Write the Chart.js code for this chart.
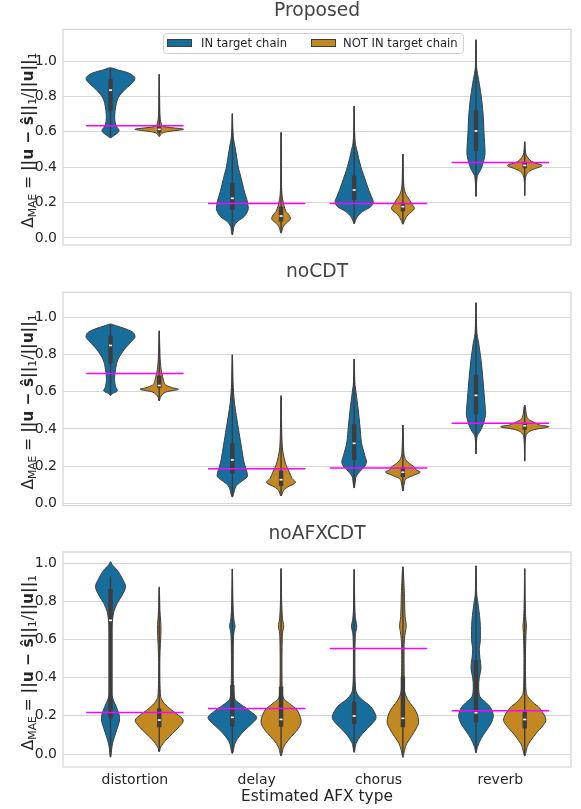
<!DOCTYPE html>
<html>
<head>
<meta charset="utf-8">
<script src="https://cdn.jsdelivr.net/npm/chart.js@4.4.1/dist/chart.umd.min.js"></script>
<style>
  html, body { margin: 0; padding: 0; background: #fff; }
  #wrap { position: relative; width: 581px; height: 809px; }
  .panel { position: absolute; left: 0; width: 581px; }
  canvas { display: block; }
</style>
</head>
<body>
<div id="wrap">
  <div class="panel" style="top:0"><canvas id="c0" width="581" height="260"></canvas></div>
  <div class="panel" style="top:260px"><canvas id="c1" width="581" height="260"></canvas></div>
  <div class="panel" style="top:520px"><canvas id="c2" width="581" height="289"></canvas></div>
</div>
<script>
const categories = ['distortion', 'delay', 'chorus', 'reverb'];
const hueLabels = ['IN target chain', 'NOT IN target chain'];
const panelTitles = ['Proposed', 'noCDT', 'noAFXCDT'];
const yTickValues = [0, 0.2, 0.4, 0.6, 0.8, 1.0];

// magenta reference level per category
const proposedRef = [0.635, 0.195, 0.195, 0.426];
const noCdtRef = [0.697, 0.186, 0.191, 0.431];
const noAfxcdtRef = [0.218, 0.239, 0.553, 0.227];

// violin outlines, bottom to top: [value, half width in category units]
const proposedIn = [
    [[0.567, 0], [0.58, 0.03], [0.595, 0.06], [0.61, 0.07], [0.63, 0.05], [0.66, 0.036], [0.70, 0.035], [0.74, 0.042], [0.78, 0.055], [0.81, 0.08], [0.84, 0.12], [0.865, 0.16], [0.885, 0.19], [0.90, 0.2], [0.915, 0.19], [0.935, 0.14], [0.95, 0.06], [0.962, 0]],
    [[0.017, 0], [0.064, 0.014], [0.092, 0.041], [0.12, 0.096], [0.158, 0.129], [0.19, 0.127], [0.215, 0.12], [0.26, 0.1], [0.31, 0.082], [0.36, 0.064], [0.40, 0.049], [0.46, 0.035], [0.516, 0.022], [0.56, 0.01], [0.62, 0.004], [0.704, 0]],
    [[0.079, 0], [0.10, 0.012], [0.12, 0.027], [0.149, 0.068], [0.177, 0.137], [0.205, 0.156], [0.234, 0.142], [0.27, 0.12], [0.309, 0.101], [0.36, 0.075], [0.403, 0.055], [0.45, 0.037], [0.497, 0.022], [0.535, 0.01], [0.60, 0.004], [0.746, 0]],
    [[0.235, 0], [0.30, 0.004], [0.347, 0.01], [0.365, 0.022], [0.403, 0.049], [0.46, 0.071], [0.497, 0.074], [0.591, 0.066], [0.685, 0.06], [0.78, 0.047], [0.874, 0.027], [0.948, 0.008], [1.0, 0.004], [1.122, 0]]
];
const proposedNot = [
    [[0.573, 0], [0.59, 0.02], [0.60, 0.06], [0.61, 0.17], [0.615, 0.2], [0.62, 0.15], [0.63, 0.04], [0.65, 0.015], [0.70, 0.006], [0.80, 0.003], [0.927, 0]],
    [[0.026, 0], [0.06, 0.015], [0.083, 0.041], [0.10, 0.07], [0.111, 0.077], [0.13, 0.065], [0.15, 0.041], [0.18, 0.025], [0.215, 0.014], [0.26, 0.006], [0.35, 0.003], [0.597, 0]],
    [[0.077, 0], [0.10, 0.015], [0.13, 0.041], [0.164, 0.093], [0.19, 0.075], [0.215, 0.055], [0.24, 0.03], [0.27, 0.014], [0.32, 0.006], [0.475, 0]],
    [[0.239, 0], [0.33, 0.004], [0.365, 0.022], [0.384, 0.055], [0.409, 0.142], [0.425, 0.08], [0.441, 0.041], [0.47, 0.012], [0.50, 0.005], [0.544, 0]]
];
const noCdtIn = [
    [[0.58, 0], [0.589, 0.014], [0.603, 0.055], [0.615, 0.05], [0.629, 0.041], [0.665, 0.033], [0.718, 0.041], [0.771, 0.06], [0.824, 0.11], [0.86, 0.16], [0.885, 0.195], [0.90, 0.2], [0.92, 0.18], [0.94, 0.11], [0.955, 0.04], [0.963, 0]],
    [[0.035, 0], [0.089, 0.027], [0.115, 0.068], [0.142, 0.12], [0.168, 0.12], [0.222, 0.096], [0.293, 0.077], [0.381, 0.055], [0.47, 0.033], [0.55, 0.016], [0.65, 0.006], [0.798, 0]],
    [[0.083, 0], [0.12, 0.01], [0.142, 0.014], [0.168, 0.041], [0.195, 0.082], [0.222, 0.101], [0.257, 0.088], [0.328, 0.06], [0.417, 0.047], [0.505, 0.033], [0.594, 0.016], [0.65, 0.006], [0.775, 0]],
    [[0.266, 0], [0.33, 0.004], [0.363, 0.01], [0.381, 0.027], [0.417, 0.055], [0.47, 0.077], [0.505, 0.077], [0.594, 0.066], [0.683, 0.055], [0.771, 0.041], [0.86, 0.022], [0.913, 0.008], [1.0, 0.003], [1.078, 0]]
];
const noCdtNot = [
    [[0.55, 0], [0.576, 0.014], [0.598, 0.055], [0.612, 0.156], [0.621, 0.11], [0.635, 0.055], [0.647, 0.041], [0.683, 0.027], [0.718, 0.016], [0.771, 0.008], [0.85, 0.004], [0.927, 0]],
    [[0.041, 0], [0.07, 0.02], [0.089, 0.055], [0.112, 0.118], [0.135, 0.09], [0.168, 0.068], [0.20, 0.045], [0.24, 0.027], [0.30, 0.011], [0.40, 0.005], [0.58, 0]],
    [[0.067, 0], [0.11, 0.012], [0.133, 0.027], [0.15, 0.082], [0.168, 0.142], [0.18, 0.11], [0.195, 0.096], [0.222, 0.041], [0.25, 0.014], [0.30, 0.006], [0.422, 0]],
    [[0.227, 0], [0.33, 0.004], [0.372, 0.016], [0.395, 0.068], [0.411, 0.197], [0.422, 0.12], [0.434, 0.082], [0.45, 0.035], [0.47, 0.016], [0.528, 0]]
];
const noAfxcdtIn = [
    [[-0.017, 0], [0.047, 0.014], [0.091, 0.033], [0.134, 0.055], [0.178, 0.074], [0.213, 0.068], [0.257, 0.041], [0.30, 0.014], [0.35, 0.006], [0.50, 0.005], [0.649, 0.008], [0.70, 0.016], [0.745, 0.027], [0.789, 0.055], [0.832, 0.096], [0.876, 0.123], [0.92, 0.096], [0.963, 0.055], [0.99, 0.015], [1.007, 0]],
    [[0.003, 0], [0.056, 0.022], [0.091, 0.055], [0.126, 0.104], [0.161, 0.164], [0.192, 0.2], [0.222, 0.151], [0.248, 0.096], [0.274, 0.041], [0.30, 0.016], [0.40, 0.008], [0.55, 0.008], [0.63, 0.012], [0.67, 0.022], [0.71, 0.012], [0.80, 0.005], [0.969, 0]],
    [[0.009, 0], [0.056, 0.016], [0.091, 0.049], [0.126, 0.096], [0.161, 0.151], [0.195, 0.18], [0.248, 0.137], [0.283, 0.068], [0.318, 0.022], [0.36, 0.01], [0.45, 0.006], [0.60, 0.008], [0.64, 0.014], [0.67, 0.022], [0.70, 0.014], [0.76, 0.006], [0.967, 0]],
    [[0.007, 0], [0.04, 0.014], [0.08, 0.041], [0.12, 0.082], [0.16, 0.123], [0.20, 0.142], [0.24, 0.123], [0.27, 0.082], [0.30, 0.033], [0.35, 0.022], [0.40, 0.027], [0.45, 0.041], [0.50, 0.033], [0.55, 0.027], [0.60, 0.036], [0.70, 0.033], [0.80, 0.014], [0.85, 0.005], [0.986, 0]]
];
const noAfxcdtNot = [
    [[0.012, 0], [0.038, 0.014], [0.073, 0.055], [0.108, 0.11], [0.143, 0.164], [0.178, 0.197], [0.213, 0.137], [0.248, 0.068], [0.283, 0.022], [0.33, 0.008], [0.50, 0.005], [0.65, 0.014], [0.75, 0.006], [0.876, 0]],
    [[-0.009, 0], [0.038, 0.022], [0.073, 0.06], [0.108, 0.11], [0.143, 0.151], [0.178, 0.164], [0.23, 0.131], [0.265, 0.068], [0.30, 0.016], [0.40, 0.008], [0.55, 0.008], [0.63, 0.012], [0.67, 0.022], [0.71, 0.012], [0.80, 0.005], [0.972, 0]],
    [[-0.017, 0], [0.021, 0.014], [0.056, 0.033], [0.091, 0.068], [0.134, 0.11], [0.169, 0.129], [0.213, 0.115], [0.248, 0.082], [0.283, 0.041], [0.33, 0.014], [0.40, 0.011], [0.55, 0.01], [0.62, 0.016], [0.67, 0.027], [0.72, 0.018], [0.80, 0.014], [0.85, 0.012], [0.981, 0]],
    [[-0.01, 0], [0.04, 0.022], [0.07, 0.049], [0.11, 0.096], [0.15, 0.151], [0.185, 0.173], [0.24, 0.123], [0.27, 0.068], [0.30, 0.027], [0.34, 0.01], [0.50, 0.006], [0.62, 0.01], [0.67, 0.014], [0.72, 0.008], [0.80, 0.004], [0.972, 0]]
];

// inner box per violin: [whisker low, q1, median, q3, whisker high]
const proposedInBox = [[0.57, 0.717, 0.836, 0.898, 0.96], [0.02, 0.158, 0.224, 0.31, 0.70], [0.08, 0.215, 0.271, 0.352, 0.746], [0.235, 0.493, 0.605, 0.723, 1.12]];
const proposedNotBox = [[0.58, 0.595, 0.614, 0.638, 0.925], [0.03, 0.092, 0.124, 0.177, 0.597], [0.08, 0.15, 0.177, 0.20, 0.475], [0.24, 0.394, 0.41, 0.426, 0.544]];
const noCdtInBox = [[0.58, 0.75, 0.848, 0.90, 0.96], [0.035, 0.16, 0.234, 0.323, 0.798], [0.083, 0.234, 0.323, 0.426, 0.775], [0.266, 0.479, 0.58, 0.691, 1.075]];
const noCdtNotBox = [[0.55, 0.62, 0.633, 0.686, 0.925], [0.041, 0.094, 0.128, 0.177, 0.575], [0.067, 0.142, 0.168, 0.195, 0.42], [0.23, 0.395, 0.417, 0.434, 0.528]];
const noAfxcdtInBox = [[-0.015, 0.187, 0.70, 0.864, 0.93], [0.003, 0.143, 0.192, 0.361, 0.97], [0.009, 0.157, 0.199, 0.274, 0.967], [0.007, 0.166, 0.216, 0.492, 0.985]];
const noAfxcdtNotBox = [[0.012, 0.14, 0.178, 0.239, 0.87], [-0.01, 0.143, 0.181, 0.353, 0.97], [-0.017, 0.14, 0.187, 0.405, 0.98], [-0.01, 0.134, 0.181, 0.222, 0.97]];

const hueColors = ['#176d9c', '#c38820'];
const edgeColor = '#3d3d3d';
const textColor = '#262626';
const titleColor = '#444444';
const gridColor = '#d6d6d6';
const fontFamily = "'DejaVu Sans', sans-serif";

Chart.defaults.font.family = fontFamily;
Chart.defaults.color = textColor;

const panels = [
    { title: panelTitles[0], ref: proposedRef, violins: [proposedIn, proposedNot], boxes: [proposedInBox, proposedNotBox],
      yMin: -0.04, yMax: 1.18, height: 260, titleMid: 10.8, areaTop: 29.3, areaBottom: 245 },
    { title: panelTitles[1], ref: noCdtRef, violins: [noCdtIn, noCdtNot], boxes: [noCdtInBox, noCdtNotBox],
      yMin: -0.011, yMax: 1.133, height: 260, titleMid: 11.8, areaTop: 32.3, areaBottom: 247 },
    { title: panelTitles[2], ref: noAfxcdtRef, violins: [noAfxcdtIn, noAfxcdtNot], boxes: [noAfxcdtInBox, noAfxcdtNotBox],
      yMin: -0.068, yMax: 1.058, height: 289, titleMid: 14.2, areaTop: 32, areaBottom: 247 }
];

// closed Catmull-Rom through the outline points
function smoothClosed(ctx, pts) {
    const n = pts.length;
    ctx.moveTo(pts[0][0], pts[0][1]);
    for (let i = 0; i < n; i++) {
        const p0 = pts[(i - 1 + n) % n], p1 = pts[i], p2 = pts[(i + 1) % n], p3 = pts[(i + 2) % n];
        ctx.bezierCurveTo(
            p1[0] + (p2[0] - p0[0]) / 6, p1[1] + (p2[1] - p0[1]) / 6,
            p2[0] - (p3[0] - p1[0]) / 6, p2[1] - (p3[1] - p1[1]) / 6,
            p2[0], p2[1]);
    }
    ctx.closePath();
}

function drawYLabel(ctx, cx, cy) {
    const big = 15.4, small = 10.8;
    const parts = [
        ['\u0394', big, 'normal', 0],
        ['MAE', small, 'normal', 3.6],
        [' = ', big, 'normal', 0],
        ['||u \u2212 \u015d||', big, 'bold', 0],
        ['1', small, 'normal', 3.6],
        ['/', big, 'normal', 0],
        ['||u||', big, 'bold', 0],
        ['1', small, 'normal', 3.6]
    ];
    ctx.save();
    let total = 0;
    parts.forEach(p => { ctx.font = `${p[2]} ${p[1]}px ${fontFamily}`; p.push(ctx.measureText(p[0]).width); total += p[4]; });
    ctx.translate(cx, cy);
    ctx.rotate(-Math.PI / 2);
    ctx.fillStyle = textColor;
    ctx.textBaseline = 'alphabetic';
    let x = -total / 2;
    parts.forEach(p => {
        ctx.font = `${p[2]} ${p[1]}px ${fontFamily}`;
        ctx.fillText(p[0], x, p[3]);
        x += p[4];
    });
    ctx.restore();
}

function drawLegend(ctx) {
    ctx.save();
    ctx.beginPath();
    ctx.roundRect(163.5, 33.5, 300, 20, 3);
    ctx.fillStyle = 'rgba(255,255,255,0.85)';
    ctx.fill();
    ctx.strokeStyle = '#d0d0d0';
    ctx.lineWidth = 1;
    ctx.stroke();
    const patchX = [167, 311], textX = [201, 343];
    ctx.font = `11.6px ${fontFamily}`;
    ctx.textBaseline = 'middle';
    hueLabels.forEach((label, h) => {
        ctx.fillStyle = hueColors[h];
        ctx.fillRect(patchX[h], 39, 25, 8);
        ctx.strokeStyle = edgeColor;
        ctx.strokeRect(patchX[h] + 0.5, 39.5, 24, 7);
        ctx.fillStyle = textColor;
        ctx.fillText(label, textX[h], 43.5);
    });
    ctx.restore();
}

function violinPlugin(p, withLegend) {
    return {
        id: 'violins',
        beforeDatasetsDraw(chart) {
            const { ctx, chartArea: a, scales: { x, y } } = chart;
            ctx.save();
            ctx.strokeStyle = gridColor;
            ctx.lineWidth = 1.25;
            ctx.strokeRect(a.left, a.top, a.right - a.left, a.bottom - a.top);

            p.violins.forEach((group, h) => {
                const off = h === 0 ? -0.2 : 0.2;
                group.forEach((outline, i) => {
                    const c = i + off;
                    const right = outline.map(([v, w]) => [x.getPixelForValue(c + w), y.getPixelForValue(v)]);
                    const left = outline.slice(1, -1).reverse().map(([v, w]) => [x.getPixelForValue(c - w), y.getPixelForValue(v)]);
                    ctx.beginPath();
                    smoothClosed(ctx, right.concat(left));
                    ctx.fillStyle = hueColors[h];
                    ctx.fill();
                    ctx.lineWidth = 1;
                    ctx.strokeStyle = edgeColor;
                    ctx.stroke();

                    const [lo, q1, med, q3, hi] = p.boxes[h][i];
                    const xc = x.getPixelForValue(c);
                    ctx.beginPath();
                    ctx.moveTo(xc, y.getPixelForValue(lo));
                    ctx.lineTo(xc, y.getPixelForValue(hi));
                    ctx.lineWidth = 1.4;
                    ctx.stroke();
                    ctx.fillStyle = edgeColor;
                    const top = y.getPixelForValue(q3), bot = y.getPixelForValue(q1);
                    ctx.fillRect(xc - 2.2, top, 4.4, bot - top);
                    ctx.fillStyle = '#ffffff';
                    ctx.fillRect(xc - 1.5, y.getPixelForValue(med) - 0.8, 3, 1.6);
                });
            });
            ctx.restore();
        },
        afterDraw(chart) {
            const a = chart.chartArea;
            drawYLabel(chart.ctx, 32.5, (a.top + a.bottom) / 2 + 3);
            if (withLegend) drawLegend(chart.ctx);
        }
    };
}

panels.forEach((p, idx) => {
    const last = idx === panels.length - 1;
    const datasets = p.ref.map((m, i) => ({
        data: [{ x: i - 0.4, y: m }, { x: i + 0.4, y: m }],
        showLine: true,
        borderColor: '#ff00ff',
        borderWidth: 1.5,
        pointRadius: 0
    }));
    new Chart(document.getElementById('c' + idx), {
        type: 'scatter',
        data: { datasets },
        options: {
            responsive: false,
            animation: false,
            events: [],
            layout: { padding: { left: 0, right: 10, top: 0, bottom: 0 } },
            plugins: {
                legend: { display: false },
                tooltip: { enabled: false },
                title: {
                    display: true,
                    text: p.title,
                    fullSize: false,
                    color: titleColor,
                    font: { size: 18.7, weight: 'normal', lineHeight: 1 },
                    padding: { top: p.titleMid - 9.35, bottom: p.areaTop - (p.titleMid - 9.35) - 18.7 }
                }
            },
            scales: {
                x: {
                    type: 'linear',
                    min: -0.59,
                    max: 3.58,
                    grid: { display: false, drawTicks: false, tickLength: 0 },
                    border: { display: false },
                    afterBuildTicks: s => { s.ticks = categories.map((c, i) => ({ value: i })); },
                    afterFit: s => { s.height = p.height - p.areaBottom; },
                    ticks: {
                        display: last,
                        padding: 5,
                        color: textColor,
                        font: { size: 14 },
                        maxRotation: 0,
                        callback: v => categories[v]
                    },
                    title: {
                        display: last,
                        text: 'Estimated AFX type',
                        color: textColor,
                        font: { size: 15.4 },
                        padding: { top: 0, bottom: 2.4 }
                    }
                },
                y: {
                    min: p.yMin,
                    max: p.yMax,
                    grid: { color: gridColor, lineWidth: 1, drawTicks: false },
                    border: { display: false },
                    afterBuildTicks: s => { s.ticks = yTickValues.map(v => ({ value: v })); },
                    afterFit: s => { s.width = 63; },
                    ticks: {
                        padding: 6,
                        color: textColor,
                        font: { size: 14 },
                        callback: v => v.toFixed(1)
                    }
                }
            }
        },
        plugins: [violinPlugin(p, idx === 0)]
    });
});
</script>
</body>
</html>
